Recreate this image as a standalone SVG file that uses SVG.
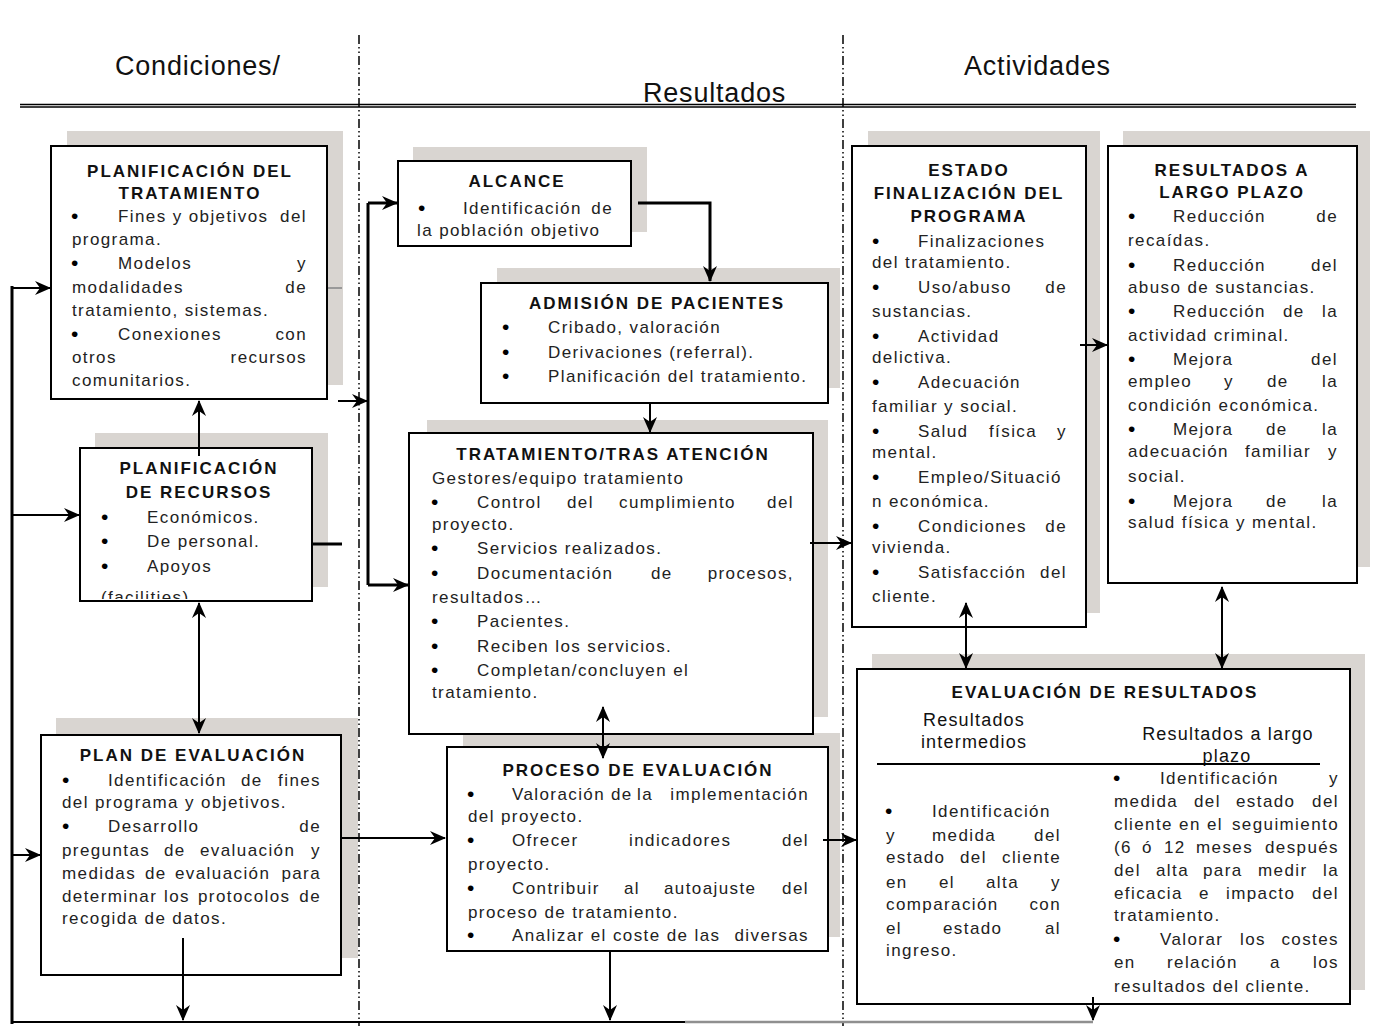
<svg xmlns="http://www.w3.org/2000/svg" width="1373" height="1033" viewBox="0 0 1373 1033">
<style>
.sh{fill:#d9d5d1}
.box{fill:#fff;stroke:#000;stroke-width:2}
.t{font-family:"Liberation Sans",Arial,sans-serif;font-size:17px;letter-spacing:1.4px;fill:#222}
.b{font-size:21px;fill:#000}
.h{font-weight:bold;letter-spacing:2px;text-anchor:middle;fill:#111}
.s{fill:#111;font-size:18px;letter-spacing:1.2px;text-anchor:middle}
.e{text-anchor:end}
.hd{font-family:"Liberation Sans",Arial,sans-serif;font-size:27px;letter-spacing:0.8px;fill:#111}
.c{stroke:#000;stroke-width:2;fill:none}
.k{stroke-width:3}
.dv{stroke:#000;stroke-width:1.5;stroke-dasharray:9 3 1.5 3 1.5 3;fill:none}
</style>
<defs>
<marker id="a" viewBox="0 0 16 14" refX="15" refY="7" markerWidth="16" markerHeight="14" markerUnits="userSpaceOnUse" orient="auto-start-reverse"><path d="M0,0 L16,7 L0,14 L5,7 z" fill="#000"/></marker>
<clipPath id="cl2"><rect x="80" y="448" width="232" height="151"/></clipPath>
</defs>
<rect width="1373" height="1033" fill="#fff"/>

<g id="header">
<text class="hd" x="115" y="75">Condiciones/</text>
<text class="hd" x="643" y="102">Resultados</text>
<text class="hd" x="964" y="75">Actividades</text>
<line x1="20" y1="104.5" x2="1356" y2="104.5" stroke="#000" stroke-width="1.3"/>
<line x1="20" y1="107" x2="1356" y2="107" stroke="#000" stroke-width="1.3"/>
<line class="dv" x1="359" y1="35" x2="359" y2="1026"/>
<line class="dv" x1="843" y1="35" x2="843" y2="1026"/>
</g>

<g id="shadows">
<rect class="sh" x="67" y="131" width="276" height="254"/>
<rect class="sh" x="95" y="433" width="233" height="154"/>
<rect class="sh" x="56" y="718" width="302" height="240"/>
<rect class="sh" x="413" y="147" width="234" height="85"/>
<rect class="sh" x="497" y="268" width="343" height="120"/>
<rect class="sh" x="427" y="420" width="401" height="297"/>
<rect class="sh" x="463" y="733" width="377" height="204"/>
<rect class="sh" x="868" y="131" width="232" height="482"/>
<rect class="sh" x="1123" y="131" width="247" height="436"/>
<rect class="sh" x="872" y="654" width="493" height="336"/>
</g>

<g id="n1">
<rect class="box" x="51" y="146" width="276" height="253"/>
<text class="t h" x="190" y="177">PLANIFICACIÓN DEL</text>
<text class="t h" x="190" y="199">TRATAMIENTO</text>
<text class="t b" x="71" y="223">•</text><text class="t" x="118" y="222">Fines y objetivos</text><text class="t e" x="307" y="222">del</text>
<text class="t" x="72" y="245">programa.</text>
<text class="t b" x="71" y="270">•</text><text class="t" x="118" y="269">Modelos</text><text class="t e" x="307" y="269">y</text>
<text class="t" x="72" y="293">modalidades</text><text class="t e" x="307" y="293">de</text>
<text class="t" x="72" y="316">tratamiento, sistemas.</text>
<text class="t b" x="71" y="341">•</text><text class="t" x="118" y="340">Conexiones</text><text class="t e" x="307" y="340">con</text>
<text class="t" x="72" y="363">otros</text><text class="t e" x="307" y="363">recursos</text>
<text class="t" x="72" y="386">comunitarios.</text>
</g>

<g id="n2">
<rect class="box" x="80" y="448" width="232" height="153"/>
<text class="t h" x="199" y="474">PLANIFICACIÓN</text>
<text class="t h" x="199" y="498">DE RECURSOS</text>
<text class="t b" x="101" y="524">•</text><text class="t" x="147" y="523">Económicos.</text>
<text class="t b" x="101" y="548">•</text><text class="t" x="147" y="547">De personal.</text>
<text class="t b" x="101" y="573">•</text><text class="t" x="147" y="572">Apoyos</text>
<text class="t" x="101" y="603" clip-path="url(#cl2)">(facilities)</text>
</g>

<g id="n3">
<rect class="box" x="41" y="735" width="300" height="240"/>
<text class="t h" x="193" y="761">PLAN DE EVALUACIÓN</text>
<text class="t b" x="62" y="787">•</text><text class="t" x="108" y="786">Identificación</text><text class="t" x="241" y="786">de</text><text class="t e" x="321" y="786">fines</text>
<text class="t" x="62" y="808">del programa y objetivos.</text>
<text class="t b" x="62" y="833">•</text><text class="t" x="108" y="832">Desarrollo</text><text class="t e" x="321" y="832">de</text>
<text class="t" x="62" y="856">preguntas</text><text class="t" x="164" y="856">de</text><text class="t" x="200" y="856">evaluación</text><text class="t e" x="321" y="856">y</text>
<text class="t" x="62" y="879">medidas</text><text class="t" x="145" y="879">de</text><text class="t" x="175" y="879">evaluación</text><text class="t e" x="321" y="879">para</text>
<text class="t" x="62" y="902">determinar</text><text class="t" x="164" y="902">los</text><text class="t" x="198" y="902">protocolos</text><text class="t e" x="321" y="902">de</text>
<text class="t" x="62" y="924">recogida de datos.</text>
</g>

<g id="n4">
<rect class="box" x="398" y="161" width="233" height="85"/>
<text class="t h" x="517" y="187">ALCANCE</text>
<text class="t b" x="418" y="215">•</text><text class="t" x="463" y="214">Identificación</text><text class="t e" x="613" y="214">de</text>
<text class="t" x="417" y="236">la población objetivo</text>
</g>

<g id="n5">
<rect class="box" x="481" y="283" width="347" height="120"/>
<text class="t h" x="657" y="309">ADMISIÓN DE PACIENTES</text>
<text class="t b" x="502" y="334">•</text><text class="t" x="548" y="333">Cribado, valoración</text>
<text class="t b" x="502" y="359">•</text><text class="t" x="548" y="358">Derivaciones (referral).</text>
<text class="t b" x="502" y="383">•</text><text class="t" x="548" y="382">Planificación del tratamiento.</text>
</g>

<g id="n6">
<rect class="box" x="409" y="433" width="404" height="301"/>
<text class="t h" x="613" y="460">TRATAMIENTO/TRAS ATENCIÓN</text>
<text class="t" x="432" y="484">Gestores/equipo tratamiento</text>
<text class="t b" x="431" y="509">•</text><text class="t" x="477" y="508">Control</text><text class="t" x="567" y="508">del</text><text class="t" x="619" y="508">cumplimiento</text><text class="t e" x="794" y="508">del</text>
<text class="t" x="432" y="530">proyecto.</text>
<text class="t b" x="431" y="555">•</text><text class="t" x="477" y="554">Servicios realizados.</text>
<text class="t b" x="431" y="580">•</text><text class="t" x="477" y="579">Documentación</text><text class="t" x="651" y="579">de</text><text class="t e" x="794" y="579">procesos,</text>
<text class="t" x="432" y="603">resultados…</text>
<text class="t b" x="431" y="628">•</text><text class="t" x="477" y="627">Pacientes.</text>
<text class="t b" x="431" y="653">•</text><text class="t" x="477" y="652">Reciben los servicios.</text>
<text class="t b" x="431" y="677">•</text><text class="t" x="477" y="676">Completan/concluyen el</text>
<text class="t" x="432" y="698">tratamiento.</text>
</g>

<g id="n7">
<rect class="box" x="447" y="747" width="381" height="204"/>
<text class="t h" x="638" y="776">PROCESO DE EVALUACIÓN</text>
<text class="t b" x="467" y="801">•</text><text class="t" x="512" y="800">Valoración</text><text class="t" x="611" y="800">de</text><text class="t" x="637" y="800">la</text><text class="t e" x="809" y="800">implementación</text>
<text class="t" x="468" y="822">del proyecto.</text>
<text class="t b" x="467" y="847">•</text><text class="t" x="512" y="846">Ofrecer</text><text class="t" x="629" y="846">indicadores</text><text class="t e" x="809" y="846">del</text>
<text class="t" x="468" y="870">proyecto.</text>
<text class="t b" x="467" y="895">•</text><text class="t" x="512" y="894">Contribuir</text><text class="t" x="624" y="894">al</text><text class="t" x="664" y="894">autoajuste</text><text class="t e" x="809" y="894">del</text>
<text class="t" x="468" y="918">proceso de tratamiento.</text>
<text class="t b" x="467" y="942">•</text><text class="t" x="512" y="941">Analizar el coste de las</text><text class="t e" x="809" y="941">diversas</text>
</g>

<g id="n8">
<rect class="box" x="852" y="146" width="234" height="481"/>
<text class="t h" x="969" y="176">ESTADO</text>
<text class="t h" x="969" y="199">FINALIZACIÓN DEL</text>
<text class="t h" x="969" y="222">PROGRAMA</text>
<text class="t b" x="872" y="248">•</text><text class="t" x="918" y="247">Finalizaciones</text>
<text class="t" x="872" y="268">del tratamiento.</text>
<text class="t b" x="872" y="294">•</text><text class="t" x="918" y="293">Uso/abuso</text><text class="t e" x="1067" y="293">de</text>
<text class="t" x="872" y="317">sustancias.</text>
<text class="t b" x="872" y="343">•</text><text class="t" x="918" y="342">Actividad</text>
<text class="t" x="872" y="363">delictiva.</text>
<text class="t b" x="872" y="389">•</text><text class="t" x="918" y="388">Adecuación</text>
<text class="t" x="872" y="412">familiar y social.</text>
<text class="t b" x="872" y="438">•</text><text class="t" x="918" y="437">Salud</text><text class="t" x="989" y="437">física</text><text class="t e" x="1067" y="437">y</text>
<text class="t" x="872" y="458">mental.</text>
<text class="t b" x="872" y="484">•</text><text class="t" x="918" y="483">Empleo/Situació</text>
<text class="t" x="872" y="507">n económica.</text>
<text class="t b" x="872" y="533">•</text><text class="t" x="918" y="532">Condiciones</text><text class="t e" x="1067" y="532">de</text>
<text class="t" x="872" y="553">vivienda.</text>
<text class="t b" x="872" y="579">•</text><text class="t" x="918" y="578">Satisfacción</text><text class="t e" x="1067" y="578">del</text>
<text class="t" x="872" y="602">cliente.</text>
</g>

<g id="n9">
<rect class="box" x="1108" y="146" width="249" height="437"/>
<text class="t h" x="1232" y="176">RESULTADOS A</text>
<text class="t h" x="1232" y="198">LARGO PLAZO</text>
<text class="t b" x="1128" y="223">•</text><text class="t" x="1173" y="222">Reducción</text><text class="t e" x="1338" y="222">de</text>
<text class="t" x="1128" y="246">recaídas.</text>
<text class="t b" x="1128" y="272">•</text><text class="t" x="1173" y="271">Reducción</text><text class="t e" x="1338" y="271">del</text>
<text class="t" x="1128" y="293">abuso de sustancias.</text>
<text class="t b" x="1128" y="318">•</text><text class="t" x="1173" y="317">Reducción</text><text class="t" x="1283" y="317">de</text><text class="t e" x="1338" y="317">la</text>
<text class="t" x="1128" y="341">actividad criminal.</text>
<text class="t b" x="1128" y="366">•</text><text class="t" x="1173" y="365">Mejora</text><text class="t e" x="1338" y="365">del</text>
<text class="t" x="1128" y="387">empleo</text><text class="t" x="1224" y="387">y</text><text class="t" x="1267" y="387">de</text><text class="t e" x="1338" y="387">la</text>
<text class="t" x="1128" y="411">condición económica.</text>
<text class="t b" x="1128" y="436">•</text><text class="t" x="1173" y="435">Mejora</text><text class="t" x="1266" y="435">de</text><text class="t e" x="1338" y="435">la</text>
<text class="t" x="1128" y="457">adecuación</text><text class="t" x="1245" y="457">familiar</text><text class="t e" x="1338" y="457">y</text>
<text class="t" x="1128" y="482">social.</text>
<text class="t b" x="1128" y="508">•</text><text class="t" x="1173" y="507">Mejora</text><text class="t" x="1266" y="507">de</text><text class="t e" x="1338" y="507">la</text>
<text class="t" x="1128" y="528">salud física y mental.</text>
</g>

<g id="n10">
<rect class="box" x="857" y="669" width="493" height="335"/>
<text class="t h" x="1105" y="698">EVALUACIÓN DE RESULTADOS</text>
<text class="t s" x="974" y="726">Resultados</text>
<text class="t s" x="974" y="748">intermedios</text>
<text class="t s" x="1228" y="740">Resultados a largo</text>
<text class="t s" x="1227" y="762">plazo</text>
<line x1="877" y1="764" x2="1320" y2="764" stroke="#000" stroke-width="2"/>
<text class="t b" x="885" y="818">•</text><text class="t" x="932" y="817">Identificación</text>
<text class="t" x="886" y="841">y</text><text class="t" x="932" y="841">medida</text><text class="t e" x="1061" y="841">del</text>
<text class="t" x="886" y="863">estado</text><text class="t" x="960" y="863">del</text><text class="t e" x="1061" y="863">cliente</text>
<text class="t" x="886" y="888">en</text><text class="t" x="939" y="888">el</text><text class="t" x="986" y="888">alta</text><text class="t e" x="1061" y="888">y</text>
<text class="t" x="886" y="910">comparación</text><text class="t e" x="1061" y="910">con</text>
<text class="t" x="886" y="934">el</text><text class="t" x="943" y="934">estado</text><text class="t e" x="1061" y="934">al</text>
<text class="t" x="886" y="956">ingreso.</text>
<text class="t b" x="1113" y="785">•</text><text class="t" x="1160" y="784">Identificación</text><text class="t e" x="1339" y="784">y</text>
<text class="t" x="1114" y="807">medida</text><text class="t" x="1194" y="807">del</text><text class="t" x="1236" y="807">estado</text><text class="t e" x="1339" y="807">del</text>
<text class="t" x="1114" y="830">cliente en el</text><text class="t e" x="1339" y="830">seguimiento</text>
<text class="t" x="1114" y="853">(6</text><text class="t" x="1142" y="853">ó</text><text class="t" x="1164" y="853">12</text><text class="t" x="1196" y="853">meses</text><text class="t e" x="1339" y="853">después</text>
<text class="t" x="1114" y="876">del</text><text class="t" x="1156" y="876">alta</text><text class="t" x="1203" y="876">para</text><text class="t" x="1258" y="876">medir</text><text class="t e" x="1339" y="876">la</text>
<text class="t" x="1114" y="899">eficacia</text><text class="t" x="1199" y="899">e</text><text class="t" x="1226" y="899">impacto</text><text class="t e" x="1339" y="899">del</text>
<text class="t" x="1114" y="921">tratamiento.</text>
<text class="t b" x="1113" y="946">•</text><text class="t" x="1160" y="945">Valorar</text><text class="t" x="1240" y="945">los</text><text class="t e" x="1339" y="945">costes</text>
<text class="t" x="1114" y="968">en</text><text class="t" x="1167" y="968">relación</text><text class="t" x="1270" y="968">a</text><text class="t e" x="1339" y="968">los</text>
<text class="t" x="1114" y="992">resultados del cliente.</text>
</g>

<g id="connectors">
<path class="c k" d="M12,286 V1024"/>
<path class="c" d="M12,288 H50" marker-end="url(#a)" stroke-width="2.5"/>
<path class="c" d="M12,515 H79" marker-end="url(#a)" stroke-width="2.5"/>
<path class="c" d="M12,855 H40" marker-end="url(#a)" stroke-width="2.5"/>
<path class="c" d="M12,1022 H685" stroke-width="2.5"/>
<path d="M685,1022 H1093" stroke="#8f8f8f" stroke-width="2.5" fill="none"/>
<path class="c" d="M199,456 V401" marker-end="url(#a)"/>
<path class="c" d="M199,603 V733" marker-start="url(#a)" marker-end="url(#a)"/>
<path class="c" d="M183,938 V1020" marker-end="url(#a)"/>
<path class="c" d="M341,838 H445" marker-end="url(#a)"/>
<path d="M328,288 H342" stroke="#999" stroke-width="2" fill="none"/>
<path class="c" d="M338,401 H367" marker-end="url(#a)"/>
<path class="c k" d="M368,585 V203"/>
<path class="c k" d="M368,203 H397" marker-end="url(#a)"/>
<path class="c k" d="M368,585 H408" marker-end="url(#a)"/>
<path class="c k" d="M313,544 H342"/>
<path class="c k" d="M638,203 H710 V281" marker-end="url(#a)"/>
<path class="c" d="M650,404 V432" marker-end="url(#a)"/>
<path class="c" d="M810,543 H851" marker-end="url(#a)"/>
<path class="c" d="M603,707 V758" marker-start="url(#a)" marker-end="url(#a)"/>
<path class="c" d="M610,952 V1020" marker-end="url(#a)"/>
<path class="c" d="M823,840 H856" marker-end="url(#a)"/>
<path class="c" d="M1080,345 H1107" marker-end="url(#a)"/>
<path class="c" d="M966,603 V668" marker-start="url(#a)" marker-end="url(#a)"/>
<path class="c" d="M1222,587 V668" marker-start="url(#a)" marker-end="url(#a)"/>
<path class="c" d="M1093,997 V1020" marker-end="url(#a)"/>
</g>
</svg>
